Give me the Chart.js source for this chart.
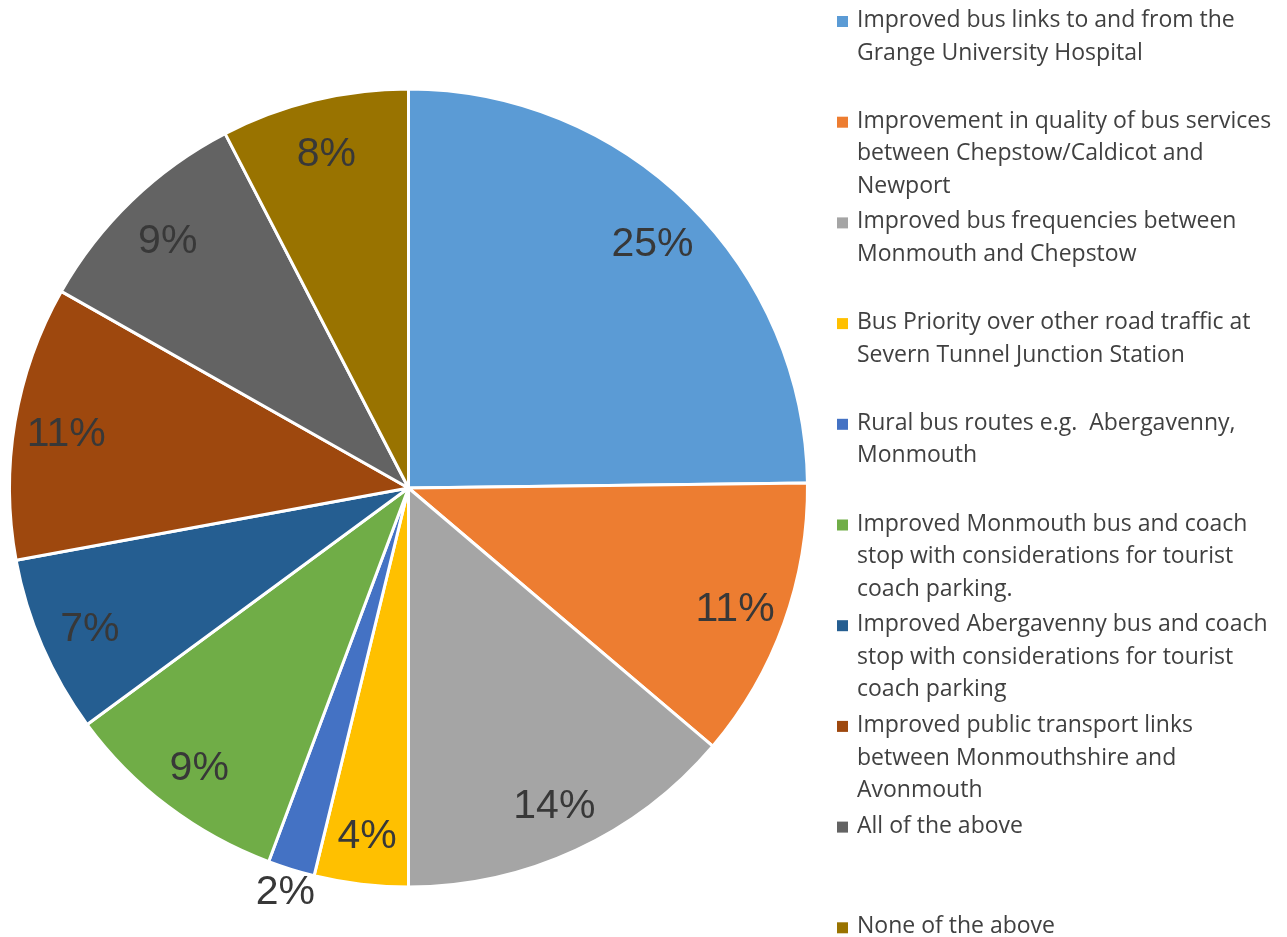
<!DOCTYPE html>
<html>
<head>
<meta charset="utf-8">
<script src="https://cdn.jsdelivr.net/npm/chart.js@4/dist/chart.umd.min.js"></script>
<style>
  html, body { margin:0; padding:0; background:#fff; }
  #wrap { position:relative; width:1287px; height:937px; }
</style>
</head>
<body>
<div id="wrap"><canvas id="pie"></canvas></div>
<script>
// survey answers, share of responses (%), clockwise from 12 o'clock
const categories = [
  ['Improved bus links to and from the', 'Grange University Hospital'],
  ['Improvement in quality of bus services', 'between Chepstow/Caldicot and', 'Newport'],
  ['Improved bus frequencies between', 'Monmouth and Chepstow'],
  ['Bus Priority over other road traffic at', 'Severn Tunnel Junction Station'],
  ['Rural bus routes e.g.  Abergavenny,', 'Monmouth'],
  ['Improved Monmouth bus and coach', 'stop with considerations for tourist', 'coach parking.'],
  ['Improved Abergavenny bus and coach', 'stop with considerations for tourist', 'coach parking'],
  ['Improved public transport links', 'between Monmouthshire and', 'Avonmouth'],
  ['All of the above'],
  ['None of the above']
];
const shares = [24.8, 11.4, 13.8, 3.8, 1.9, 9.2, 7.2, 11.1, 9.2, 7.6];
const colours = ['#5B9BD5','#ED7D31','#A5A5A5','#FFC000','#4472C4','#70AD47','#255E91','#9E480E','#636363','#997300'];

// percent labels on the slices (small ones go outside)
const pctLabels = {
  id:'pctLabels',
  afterDatasetsDraw(chart) {
    const {ctx} = chart;
    const meta = chart.getDatasetMeta(0);
    ctx.save();
    ctx.font = '41px "Liberation Sans", Arial, sans-serif';
    ctx.fillStyle = '#383838';
    ctx.textAlign = 'center';
    ctx.textBaseline = 'middle';
    meta.data.forEach((arc, i) => {
      const p = arc.getProps(['x','y','startAngle','endAngle','outerRadius'], true);
      const mid = (p.startAngle + p.endAngle) / 2;
      const v = shares[i];
      const r = v < 3 ? p.outerRadius + 20 : p.outerRadius * 0.87;
      ctx.fillText(Math.round(v) + '%', p.x + Math.cos(mid) * r, p.y + Math.sin(mid) * r + 4);
    });
    ctx.restore();
  }
};

// Excel-style legend on the right, fixed slot per entry
const sideLegend = {
  id:'sideLegend',
  afterDraw(chart) {
    const {ctx} = chart;
    const x0 = 837, step = 100.7, lineH = 32.6;
    ctx.save();
    ctx.font = '23px "Open Sans", "Noto Sans", sans-serif';
    ctx.textAlign = 'left';
    ctx.textBaseline = 'alphabetic';
    categories.forEach((lines, i) => {
      const base = 27 + i * step;
      ctx.fillStyle = colours[i];
      ctx.fillRect(x0, base - 11, 11, 11);
      ctx.fillStyle = '#404040';
      lines.forEach((t, k) => ctx.fillText(t, x0 + 20, base + k * lineH));
    });
    ctx.restore();
  }
};

new Chart(document.getElementById('pie'), {
  type:'pie',
  data:{
    labels: categories,
    datasets:[{
      data: shares,
      backgroundColor: colours,
      borderColor:'#ffffff',
      borderWidth:3
    }]
  },
  options:{
    responsive:true, maintainAspectRatio:false, animation:false,
    layout:{ padding:{ left:8, right:478, top:87, bottom:48 } },
    plugins:{ legend:{display:false}, tooltip:{enabled:false} }
  },
  plugins:[pctLabels, sideLegend]
});
</script>
</body>
</html>
